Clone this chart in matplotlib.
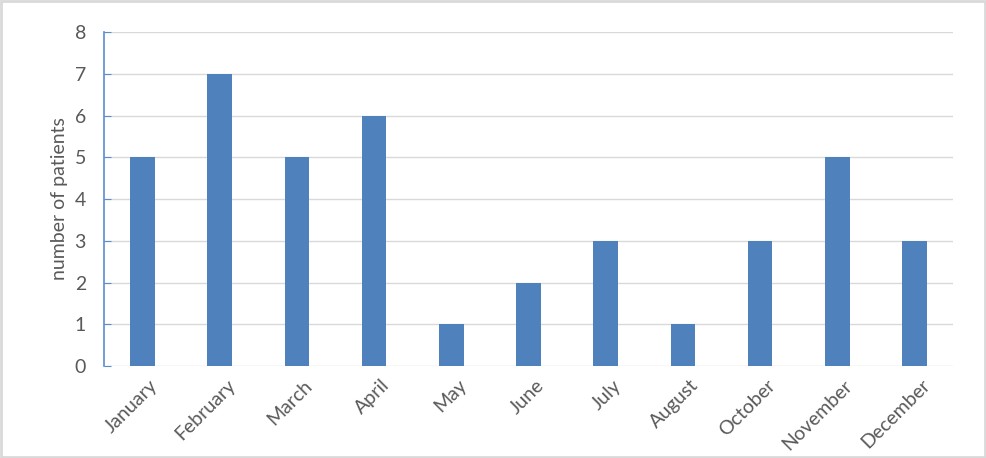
import matplotlib
matplotlib.use('Agg')
import matplotlib.pyplot as plt
from matplotlib.patches import Rectangle
from matplotlib.transforms import ScaledTranslation

months = ['January', 'February', 'March', 'April', 'May', 'June', 'July',
          'August', 'October', 'November', 'December']
patients = [5, 7, 5, 6, 1, 2, 3, 1, 3, 5, 3]
y_ticks = [0, 1, 2, 3, 4, 5, 6, 7, 8]

plt.rcParams['font.family'] = ['Lato', 'DejaVu Sans']

fig = plt.figure(figsize=(9.86, 4.58), dpi=100)
ax = fig.add_axes([0.1055, 0.2009, 0.861, 0.7291])

x = list(range(len(months)))
ax.bar(x, patients, width=0.32, color='#4F81BD', zorder=3)

ax.set_xlim(-0.5, len(months) - 0.5)
ax.set_ylim(0, 8)
ax.set_yticks(y_ticks)
ax.set_xticks(x)
ax.set_xticklabels(months, rotation=45, ha='right', va='center', rotation_mode='anchor')

ax.grid(axis='y', color='#D9D9D9', linewidth=1, zorder=0)
for side in ['top', 'right', 'bottom']:
    ax.spines[side].set_visible(False)
ax.spines['left'].set_color('#5B8BD0')
ax.spines['left'].set_linewidth(1.2)
ax.tick_params(axis='y', direction='in', length=5, color='#5B8BD0',
               labelcolor='#595959', labelsize=14, pad=13)
ax.tick_params(axis='x', length=0, labelcolor='#595959', labelsize=14, pad=12)
ax.set_ylabel('number of patients', fontsize=14, color='#595959', labelpad=5)

# shift rotated labels to the right, like Excel does (after tick_params, which resets transforms)
offset = ScaledTranslation(9 / 72, 0, fig.dpi_scale_trans)
for lbl in ax.get_xticklabels():
    lbl.set_transform(lbl.get_transform() + offset)

# light frame around the chart
fig.patches.append(Rectangle((0.001, 0.002), 0.998, 0.996, transform=fig.transFigure,
                             fill=False, edgecolor='#D9D9D9', linewidth=2))

fig.savefig('out.png', dpi=100)
